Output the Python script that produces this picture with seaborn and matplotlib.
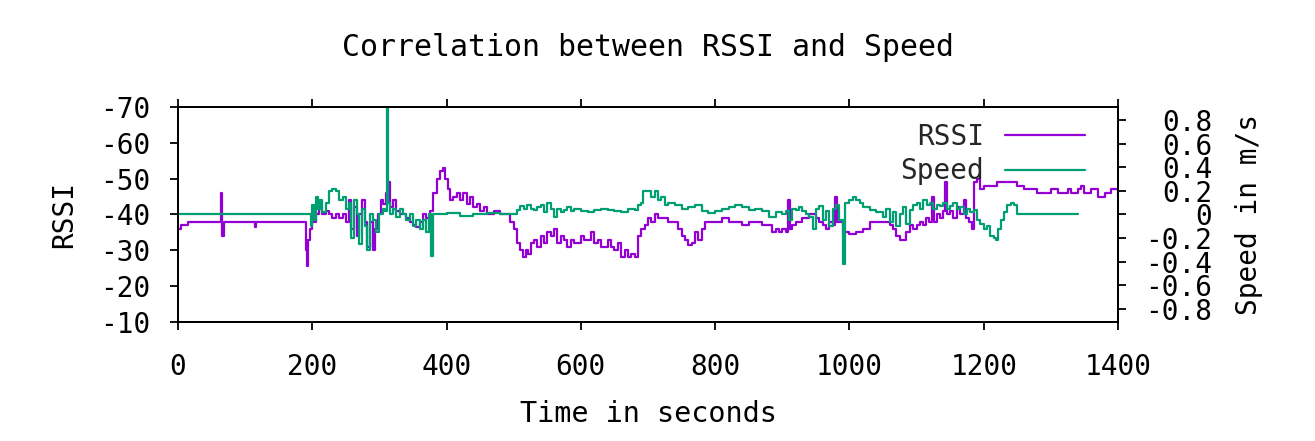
import matplotlib
matplotlib.use("Agg")
import matplotlib.pyplot as plt
import seaborn as sns
import pandas as pd

# ---------------- data ----------------
rssi_time = [0, 5, 10, 15, 62, 64, 66, 68, 112, 114, 116, 188, 190, 192, 194, 197, 200, 205, 210, 215,
             220, 225, 230, 235, 240, 245, 250, 255, 258, 262, 266, 270, 274, 278, 282, 286, 290, 294, 298, 302,
             306, 310, 313, 316, 320, 325, 330, 340, 345, 350, 355, 360, 365, 370, 375, 380, 385, 390, 394, 398,
             402, 405, 410, 415, 420, 425, 430, 435, 440, 445, 450, 455, 460, 470, 480, 490, 495, 500, 505, 510,
             514, 518, 522, 526, 530, 535, 540, 545, 550, 555, 560, 565, 570, 575, 580, 585, 590, 600, 605, 610,
             615, 620, 625, 630, 640, 645, 650, 655, 660, 665, 670, 675, 680, 685, 690, 695, 700, 705, 710, 715,
             720, 730, 740, 745, 750, 755, 760, 765, 770, 775, 780, 785, 790, 800, 810, 820, 830, 840, 850, 860,
             870, 880, 885, 890, 895, 900, 905, 908, 911, 915, 920, 930, 940, 950, 955, 960, 965, 970, 975, 979,
             982, 990, 1000, 1010, 1020, 1030, 1040, 1050, 1060, 1065, 1070, 1075, 1080, 1085, 1090, 1095, 1100, 1105, 1110, 1114,
             1118, 1123, 1126, 1130, 1135, 1140, 1142, 1145, 1150, 1155, 1160, 1165, 1170, 1173, 1178, 1182, 1186, 1190, 1195, 1200,
             1210, 1220, 1240, 1250, 1260, 1280, 1300, 1310, 1320, 1325, 1330, 1340, 1345, 1350, 1360, 1370, 1380, 1390, 1400]
rssi_value = [-36, -37, -37, -38, -38, -46, -34, -38, -38, -36.5, -38, -38, -30, -25.5, -33, -36, -38, -40, -42, -40,
              -41, -40, -39, -40, -39, -40, -38, -44, -36, -42, -34, -40, -44, -38, -31, -38, -30, -36, -40, -44,
              -43, -46, -49, -42, -44, -41, -40, -39, -38, -37, -36.5, -38, -40, -39, -41, -46, -50, -52, -53, -50,
              -47, -44, -45, -46, -44, -46, -43, -45, -42, -43, -41, -42, -40, -41, -40, -40, -38, -36, -32, -30,
              -28, -30, -29, -32, -33, -31, -34, -32, -35, -34, -36, -32, -34, -33, -31, -33, -32, -34, -33, -33,
              -35, -32, -33, -31, -33, -31, -30, -32, -28, -30, -28, -29, -28, -34, -36, -37, -39, -38, -40, -39,
              -39, -38, -38, -36, -34, -33, -31.5, -32, -35, -33, -36, -38, -38, -38, -39, -38, -38, -37, -38, -38,
              -37, -37, -35, -36, -35, -36, -35, -44, -36, -37, -38, -39, -40, -39, -38, -37, -36, -38, -37, -45,
              -38, -35, -34.5, -35, -36, -38, -38, -38, -37, -36, -34, -33, -33, -35, -37, -36, -37, -38, -37, -39,
              -38, -45, -38, -40, -39, -41, -49, -40, -41, -39, -42, -40, -44, -39, -38, -36, -49, -50, -47, -48,
              -48, -49, -49, -48, -47, -46, -47, -46, -46, -47, -46, -47, -48, -46, -47, -45, -46, -47, -45]

speed_time = [0, 195, 198, 200, 203, 206, 209, 212, 215, 220, 225, 230, 235, 240, 245, 250, 255, 258, 262, 266,
              270, 274, 278, 282, 286, 290, 295, 300, 305, 309, 311, 313, 316, 320, 325, 330, 335, 340, 345, 350,
              355, 360, 365, 370, 374, 377, 380, 390, 400, 420, 440, 460, 480, 500, 505, 510, 515, 520, 525, 530,
              535, 540, 545, 550, 555, 560, 565, 570, 575, 580, 585, 590, 600, 610, 620, 630, 640, 650, 660, 670,
              680, 685, 690, 693, 700, 705, 710, 715, 720, 725, 730, 740, 750, 760, 770, 780, 790, 800, 810, 820,
              830, 840, 850, 860, 870, 880, 890, 900, 905, 910, 915, 920, 925, 930, 935, 940, 945, 950, 955, 960,
              965, 970, 975, 980, 985, 990, 993, 1000, 1005, 1010, 1015, 1020, 1030, 1040, 1050, 1055, 1060, 1065, 1070, 1075,
              1080, 1085, 1090, 1095, 1100, 1105, 1110, 1115, 1120, 1125, 1130, 1135, 1140, 1145, 1150, 1155, 1160, 1165, 1170, 1175,
              1180, 1185, 1190, 1195, 1200, 1205, 1210, 1215, 1218, 1222, 1226, 1230, 1235, 1240, 1245, 1250, 1340]
speed_value = [0, 0, -0.1, 0.08, -0.05, 0.15, 0.05, 0.12, 0.02, 0.1, 0.2, 0.22, 0.2, 0.12, 0.15, 0.05, 0.1, -0.2, 0.12, 0.0,
               -0.25, 0.05, -0.1, -0.3, 0.0, -0.05, -0.15, 0.0, 0.05, 0.03, 1.3, 0.1, 0.0, 0.05, -0.02, 0.05, 0.0, -0.05, 0.0, -0.1,
               -0.05, -0.12, -0.05, -0.15, 0.0, -0.35, 0.0, 0.0, 0.01, -0.01, 0.0, 0.01, 0.0, 0.0, 0.04, 0.07, 0.05, 0.08, 0.05, 0.04,
               0.06, 0.08, 0.02, 0.1, 0.05, -0.02, 0.05, 0.02, 0.04, 0.06, 0.03, 0.05, 0.03, 0.02, 0.04, 0.05, 0.04, 0.03, 0.02, 0.05,
               0.04, 0.08, 0.1, 0.2, 0.2, 0.15, 0.2, 0.12, 0.15, 0.08, 0.1, 0.08, 0.05, 0.06, 0.08, 0.03, 0.01, 0.03, 0.05, 0.06,
               0.08, 0.06, 0.04, 0.05, 0.03, -0.02, 0.02, 0.0, 0.03, -0.05, 0.05, 0.04, 0.06, 0.03, 0.0, -0.02, -0.12, 0.05, 0.07, -0.05,
               0.03, -0.1, 0.05, 0.08, -0.05, -0.42, 0.1, 0.12, 0.15, 0.12, 0.1, 0.06, 0.04, 0.02, -0.02, 0.05, -0.06, 0.02, -0.1, 0.0,
               0.06, -0.08, 0.04, 0.08, 0.1, 0.05, 0.12, 0.08, 0.1, 0.05, 0.08, 0.07, 0.1, 0.05, 0.07, 0.1, 0.05, 0.06, 0.0, 0.05,
               0.02, 0.04, -0.05, -0.08, -0.12, -0.1, -0.18, -0.2, -0.22, -0.12, -0.05, 0.02, 0.08, 0.1, 0.08, 0.0, 0.0]

x_ticks = [0, 200, 400, 600, 800, 1000, 1200, 1400]
rssi_ticks = [-70, -60, -50, -40, -30, -20, -10]
speed_ticks = [-0.8, -0.6, -0.4, -0.2, 0, 0.2, 0.4, 0.6, 0.8]
speed_tick_labels = ["-0.8", "-0.6", "-0.4", "-0.2", "0", "0.2", "0.4", "0.6", "0.8"]

title_text = "Correlation between RSSI and Speed"
x_label = "Time in seconds"
y_label = "RSSI"
y2_label = "Speed in m/s"
series_names = ["RSSI", "Speed"]
series_colors = ["#9400D3", "#009E73"]

# ---------------- plotting ----------------
sns.set_theme(style="white")
plt.rcParams["font.family"] = ["DejaVu Sans Mono", "DejaVu Sans"]
plt.rcParams["axes.unicode_minus"] = False

rssi_df = pd.DataFrame({"time": rssi_time, "value": rssi_value})
speed_df = pd.DataFrame({"time": speed_time, "value": speed_value})

W, H = 1315, 441
fig = plt.figure(figsize=(W / 100, H / 100), dpi=100)
ax = fig.add_axes([178 / W, 1 - 322 / H, 940 / W, 215 / H])
ax2 = ax.twinx()

sns.lineplot(data=rssi_df, x="time", y="value", ax=ax, color=series_colors[0],
             linewidth=1.6, estimator=None, sort=False, legend=False, drawstyle="steps-post")
sns.lineplot(data=speed_df, x="time", y="value", ax=ax2, color=series_colors[1],
             linewidth=1.6, estimator=None, sort=False, legend=False, drawstyle="steps-post")

ax.set_xlim(0, 1400)
ax.set_ylim(-10, -70)
ax2.set_ylim(-0.91, 0.91)

ax.set_xticks(x_ticks)
ax.set_xticklabels([str(v) for v in x_ticks])
ax.set_yticks(rssi_ticks)
ax.set_yticklabels([str(v) for v in rssi_ticks])
ax2.set_yticks(speed_ticks)
ax2.set_yticklabels(speed_tick_labels)

fs = 20
for a in (ax, ax2):
    for sp in a.spines.values():
        sp.set_color("black")
        sp.set_linewidth(1.4)

ax.tick_params(axis="x", direction="out", length=6, width=1.3, colors="black",
               labelsize=fs, pad=16, top=True, bottom=True, labeltop=False)
ax.tick_params(axis="y", direction="out", length=6, width=1.3, colors="black",
               labelsize=fs, pad=14, left=True, right=False)
ax2.tick_params(axis="y", direction="out", length=6, width=1.3, colors="black",
                labelsize=fs, pad=62, right=True, left=False)
for lab in ax2.get_yticklabels():
    lab.set_horizontalalignment("right")

ax.set_xlabel(x_label, fontsize=20.5, color="black", labelpad=14)
ax.set_ylabel(y_label, fontsize=fs, color="black", labelpad=16)
ax2.set_ylabel(y2_label, fontsize=fs, color="black", labelpad=16)

fig.text(648 / W, 1 - 48 / H, title_text, fontsize=21.5, color="black",
         ha="center", va="center")

handles = [ax.get_lines()[0], ax2.get_lines()[0]]
ax2.legend(handles, series_names, loc="upper right", bbox_to_anchor=(0.965, 0.925),
           frameon=False, markerfirst=False, fontsize=fs, handlelength=2.9,
           handletextpad=0.75, labelspacing=0.22, borderpad=0, borderaxespad=0)

fig.savefig("out.png", dpi=100, facecolor="white")
